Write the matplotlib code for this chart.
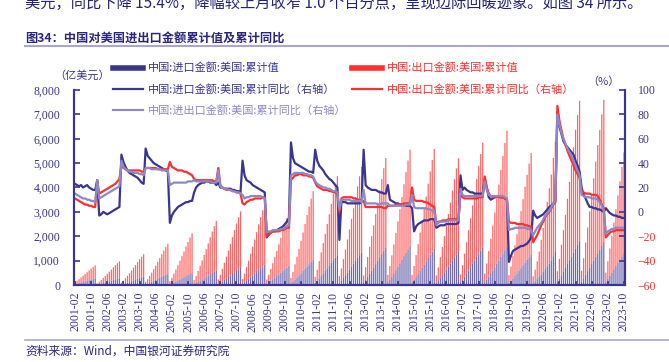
import matplotlib
matplotlib.use("Agg")
import matplotlib.pyplot as plt
from matplotlib.lines import Line2D
import numpy as np
import pandas as pd

# monthly axis 2001-02 .. 2023-10
months = pd.period_range("2001-02", "2023-10", freq="M").strftime("%Y-%m").tolist()

# cumulative (YTD) export value to US, 亿美元
export_ytd = [
    76, 119, 163, 209, 255, 304, 353, 404, 453, 499, 543,
    52, 98, 154, 210, 269, 329, 392, 455, 521, 584, 644, 700,
    69, 129, 203, 277, 356, 435, 518, 601, 689, 772, 851, 925,
    94, 175, 275, 375, 481, 587, 699, 812, 931, 1043, 1149, 1249,
    122, 228, 358, 489, 627, 766, 912, 1059, 1214, 1360, 1499, 1629,
    153, 285, 448, 611, 783, 956, 1140, 1323, 1516, 1699, 1872, 2035,
    175, 326, 512, 698, 896, 1094, 1303, 1513, 1734, 1943, 2141, 2327,
    189, 353, 555, 757, 971, 1186, 1413, 1640, 1880, 2107, 2321, 2523,
    166, 309, 486, 662, 850, 1038, 1236, 1435, 1645, 1844, 2031, 2208,
    212, 397, 623, 850, 1091, 1332, 1586, 1841, 2111, 2366, 2606, 2833,
    243, 454, 714, 974, 1249, 1525, 1817, 2109, 2418, 2710, 2985, 3245,
    264, 493, 774, 1055, 1354, 1653, 1970, 2287, 2621, 2938, 3237, 3518,
    276, 516, 810, 1105, 1418, 1731, 2063, 2395, 2745, 3076, 3389, 3684,
    297, 555, 871, 1188, 1525, 1862, 2218, 2575, 2951, 3307, 3644, 3961,
    307, 573, 900, 1228, 1575, 1923, 2292, 2660, 3049, 3417, 3765, 4092,
    289, 539, 847, 1156, 1483, 1810, 2157, 2504, 2870, 3216, 3544, 3852,
    322, 602, 946, 1289, 1655, 2020, 2407, 2794, 3202, 3589, 3954, 4298,
    359, 670, 1052, 1435, 1842, 2248, 2679, 3110, 3564, 3995, 4401, 4784,
    314, 586, 921, 1256, 1612, 1968, 2345, 2722, 3119, 3496, 3852, 4187,
    280, 480, 730, 1040, 1420, 1800, 2210, 2650, 3090, 3520, 4030, 4518,
    432, 810, 1250, 1700, 2180, 2680, 3210, 3750, 4320, 4880, 5330, 5761,
    445, 830, 1320, 1790, 2300, 2810, 3370, 3900, 4440, 4920, 5380, 5818,
    380, 720, 1120, 1510, 1920, 2330, 2770, 3210, 3670, 4120,
]

# cumulative (YTD) import value from US, 亿美元
import_ytd = [
    37, 58, 79, 101, 123, 147, 170, 195, 219, 241, 262,
    20, 38, 60, 82, 105, 128, 152, 177, 203, 227, 250, 272,
    25, 47, 74, 102, 130, 159, 190, 220, 253, 283, 312, 339,
    34, 63, 98, 134, 172, 210, 250, 291, 333, 373, 411, 447,
    37, 68, 107, 146, 187, 229, 273, 317, 363, 407, 448, 487,
    44, 83, 130, 178, 228, 278, 332, 385, 441, 494, 545, 592,
    52, 97, 153, 208, 267, 326, 389, 451, 517, 579, 638, 694,
    61, 114, 179, 244, 313, 383, 456, 529, 606, 680, 749, 814,
    58, 109, 171, 233, 298, 364, 434, 504, 577, 647, 713, 775,
    77, 143, 224, 306, 393, 479, 571, 663, 760, 852, 938, 1020,
    92, 171, 269, 366, 470, 574, 684, 794, 910, 1020, 1123, 1221,
    100, 186, 292, 399, 512, 625, 744, 864, 990, 1110, 1223, 1329,
    114, 214, 336, 458, 588, 717, 855, 992, 1137, 1274, 1404, 1526,
    119, 223, 350, 477, 612, 748, 891, 1034, 1185, 1328, 1464, 1591,
    112, 208, 327, 446, 573, 699, 833, 967, 1108, 1242, 1368, 1487,
    101, 189, 297, 404, 519, 634, 755, 876, 1004, 1126, 1240, 1348,
    115, 215, 339, 462, 593, 723, 862, 1000, 1147, 1285, 1416, 1539,
    116, 217, 341, 465, 597, 729, 869, 1008, 1155, 1295, 1427, 1551,
    92, 172, 270, 368, 472, 577, 687, 798, 914, 1025, 1129, 1227,
    80, 150, 240, 330, 430, 540, 650, 760, 880, 1010, 1180, 1352,
    130, 260, 400, 550, 700, 860, 1020, 1170, 1330, 1490, 1640, 1795,
    140, 270, 420, 570, 720, 860, 1010, 1160, 1300, 1440, 1620, 1776,
    130, 250, 380, 510, 650, 780, 910, 1040, 1180, 1320,
]

# cumulative YoY, %
import_yoy = [
    23, 22, 21, 22, 20, 21, 22, 20, 19, 18, 18,
    26, -3, -2, 0, -1, -2, -1, 0, 1, 2, 3, 4,
    47, 41, 37, 34, 32, 31, 30, 29, 28, 26, 24, 23,
    52, 46, 44, 42, 40, 39, 38, 37, 36, 35, 34, 33,
    -9, -3, 0, 2, 4, 5, 6, 7, 8, 8, 9, 9,
    16, 20, 22, 23, 24, 24, 25, 25, 24, 24, 24, 22,
    24, 20, 20, 19, 19, 19, 19, 18, 18, 17, 17, 16,
    42, 30, 26, 25, 24, 22, 21, 20, 19, 18, 17, 16,
    -21, -18, -17, -16, -16, -15, -14, -13, -12, -10, -8, -5,
    57, 44, 40, 39, 38, 37, 36, 35, 34, 33, 33, 32,
    51, 42, 38, 36, 34, 31, 29, 27, 26, 24, 22, 20,
    -23, 9, 8, 8, 7, 7, 7, 7, 7, 7, 7, 8,
    51, 22, 20, 19, 18, 18, 18, 17, 16, 16, 15, 15,
    22, 10, 9, 8, 7, 7, 6, 6, 6, 5, 5, 5,
    3, -16, -12, -10, -9, -8, -7, -7, -7, -6, -6, -6,
    -13, -12, -11, -11, -11, -10, -10, -10, -10, -10, -10, -9,
    30, 18, 20, 18, 17, 16, 16, 15, 15, 15, 15, 15,
    27, 20, 12, 10, 11, 12, 13, 13, 12, 12, 11, 10,
    -41, -36, -32, -31, -30, -29, -28, -28, -27, -26, -24, -21,
    1, -3, -5, -4, -3, -2, 0, 2, 4, 5, 7, 9,
    82, 70, 64, 58, 55, 53, 51, 49, 47, 42, 38, 33,
    20, 14, 11, 7, 4, 4, 3, 3, 2, 2, 1, 0,
    3, 1, -1, -2, -3, -3, -4, -4, -5, -5,
]

export_yoy = [
    11, 10, 9, 8, 7, 6, 6, 5, 5, 4, 4,
    26, 15, 16, 17, 18, 19, 20, 21, 22, 23, 25, 27,
    38, 36, 35, 34, 34, 34, 34, 34, 34, 34, 33, 33,
    36, 36, 36, 36, 36, 36, 35, 35, 35, 35, 35, 35,
    41, 37, 36, 35, 34, 34, 34, 33, 33, 32, 31, 30,
    27, 26, 26, 26, 26, 26, 26, 26, 26, 26, 25, 25,
    36, 22, 20, 19, 18, 18, 18, 17, 17, 16, 16, 15,
    7, 6, 8, 9, 10, 10, 11, 11, 11, 11, 12, 12,
    -20, -19, -17, -16, -16, -16, -16, -15, -15, -14, -13, -13,
    26, 28, 30, 30, 31, 31, 30, 30, 30, 29, 29, 28,
    24, 21, 20, 19, 18, 18, 18, 17, 17, 16, 16, 15,
    0, 11, 12, 12, 12, 12, 12, 11, 11, 10, 10, 9,
    9, 4, 4, 4, 4, 4, 4, 4, 4, 4, 3, 3,
    5, 5, 5, 5, 6, 6, 6, 6, 7, 7, 7, 7,
    20, 10, 9, 9, 9, 9, 8, 8, 7, 6, 5, 4,
    -10, -8, -8, -7, -7, -7, -6, -6, -6, -6, -6, -6,
    15, 12, 11, 11, 11, 11, 11, 11, 11, 12, 12, 12,
    29, 20, 15, 13, 12, 12, 12, 12, 12, 12, 11, 10,
    -8, -9, -9, -9, -10, -10, -10, -10, -11, -11, -12, -12,
    -25, -22, -19, -15, -11, -8, -4, -2, 0, 3, 6, 8,
    87, 75, 67, 60, 55, 50, 46, 42, 38, 34, 31, 28,
    16, 16, 15, 15, 15, 14, 14, 14, 13, 10, 6, 3,
    -21, -19, -17, -16, -16, -15, -15, -15, -15, -15,
]

total_yoy = [
    15, 14, 13, 12, 11, 11, 10, 10, 9, 9, 8,
    26, 11, 12, 13, 14, 15, 16, 17, 18, 19, 20, 21,
    42, 37, 35, 34, 33, 33, 32, 32, 32, 31, 31, 30,
    36, 36, 36, 35, 35, 35, 35, 35, 34, 34, 34, 34,
    22, 23, 24, 24, 24, 24, 24, 24, 24, 25, 25, 25,
    26, 25, 25, 25, 25, 25, 25, 25, 25, 24, 24, 24,
    34, 21, 20, 19, 19, 18, 18, 17, 17, 16, 16, 15,
    14, 11, 12, 12, 13, 13, 13, 13, 13, 13, 12, 11,
    -17, -16, -16, -15, -15, -15, -15, -14, -14, -13, -12, -11,
    30, 31, 32, 32, 32, 32, 32, 31, 31, 30, 30, 29,
    25, 23, 22, 21, 20, 20, 19, 19, 18, 17, 17, 16,
    2, 10, 10, 10, 10, 10, 9, 9, 9, 9, 9, 8,
    18, 7, 7, 7, 7, 7, 7, 6, 6, 7, 7, 7,
    7, 5, 5, 5, 5, 5, 5, 5, 5, 6, 6, 6,
    14, 4, 3, 3, 3, 3, 3, 3, 2, 2, 1, 1,
    -11, -9, -8, -8, -8, -8, -7, -7, -7, -7, -7, -7,
    19, 14, 13, 13, 13, 13, 13, 13, 13, 13, 13, 13,
    25, 18, 14, 13, 13, 13, 13, 13, 13, 13, 12, 11,
    -15, -14, -14, -13, -13, -13, -13, -13, -13, -14, -14, -15,
    -19, -16, -13, -11, -9, -6, -3, -1, 1, 4, 7, 9,
    80, 72, 65, 60, 56, 52, 49, 46, 42, 38, 34, 30,
    14, 13, 12, 12, 12, 11, 11, 11, 10, 8, 5, 1,
    -18, -16, -15, -14, -14, -13, -13, -13, -13, -13,
]

left_ticks = [0, 1000, 2000, 3000, 4000, 5000, 6000, 7000, 8000]
right_ticks = [-60, -40, -20, 0, 20, 40, 60, 80, 100]

NAVY = "#3a3592"
RED = "#ff2f2f"
LAVENDER = "#8c89c6"
RULE = "#a9a7d2"

plt.rcParams['font.family'] = ['Noto Sans CJK SC', 'DejaVu Sans']
NUM_FONT = 'Liberation Serif'

W, H = 669, 362
fig = plt.figure(figsize=(W / 100, H / 100), dpi=100)
ax = fig.add_axes([74 / W, 77 / H, 551 / W, 195 / H])

x = np.arange(len(months))

# stacked cumulative bars: imports at bottom, exports on top
ax.bar(x, import_ytd, width=0.6, color=NAVY, linewidth=0, alpha=0.75, snap=False, zorder=1)
ax.bar(x, export_ytd, bottom=import_ytd, width=0.6, color=RED, linewidth=0, alpha=0.75,
       snap=False, zorder=1)

ax.set_xlim(-0.5, len(months) - 0.5)
ax.set_ylim(0, 8000)
ax.set_yticks(left_ticks)
ax.set_yticklabels([f"{v:,}" for v in left_ticks], fontfamily=NUM_FONT, fontsize=8.5, color=NAVY)
ax.set_xticks(x[::8])
ax.set_xticklabels(months[::8], rotation=90, fontfamily=NUM_FONT, fontsize=8.5, color=NAVY)
ax.tick_params(axis='y', direction='in', length=4, width=1.2, color=NAVY, pad=10)
ax.tick_params(axis='x', direction='in', length=3, width=1.2, color=NAVY, pad=5)

# YoY lines on the right axis
ax2 = ax.twinx()
ax2.plot(x, import_yoy, color=NAVY, lw=1.6)
ax2.plot(x, export_yoy, color=RED, lw=1.6)
ax2.plot(x, total_yoy, color=LAVENDER, lw=1.6)
ax2.set_ylim(-60, 100)
ax2.set_yticks(right_ticks)
ax2.set_yticklabels([f"{v}".replace("-", "\u2212") for v in right_ticks],
                    fontfamily=NUM_FONT, fontsize=8.5)
for lab, v in zip(ax2.get_yticklabels(), right_ticks):
    lab.set_color(RED if v < 0 else NAVY)
ax2.tick_params(axis='y', direction='in', length=4, width=1.2, color=NAVY, pad=9)

for a in (ax, ax2):
    a.spines['top'].set_visible(False)
    for s in ('left', 'right', 'bottom'):
        a.spines[s].set_color(NAVY)
        a.spines[s].set_linewidth(1.5)

# axis unit labels
fig.text(82 / W, 1 - 75 / H, "（亿美元）", ha='center', va='center', fontsize=8, color=NAVY)
fig.text(603 / W, 1 - 82 / H, "（%）", ha='center', va='center', fontsize=8, color=NAVY)

# legend, drawn by hand to follow the original layout
legend_rows = [
    (113, 68, NAVY, 4.0, "中国:进口金额:美国:累计值"),
    (113, 89, NAVY, 1.6, "中国:进口金额:美国:累计同比（右轴）"),
    (113, 110, LAVENDER, 1.6, "中国:进出口金额:美国:累计同比（右轴）"),
    (352, 68, RED, 4.0, "中国:出口金额:美国:累计值"),
    (352, 89, RED, 1.6, "中国:出口金额:美国:累计同比（右轴）"),
]
for x0, y0, col, lw, label in legend_rows:
    fig.add_artist(Line2D([x0 / W, (x0 + 30) / W], [1 - y0 / H] * 2, color=col, lw=lw))
    fig.text((x0 + 35) / W, 1 - y0 / H, label, ha='left', va='center', fontsize=8, color=col)

# page text around the figure
fig.text(25 / W, 1 - 3 / H, "美元，同比下降 15.4%，降幅较上月收窄 1.0 个百分点，呈现边际回暖迹象。如图 34 所示。",
         ha='left', va='center', fontsize=11, color="#24227a")
fig.text(25 / W, 1 - 38 / H, "图34：中国对美国进出口金额累计值及累计同比",
         ha='left', va='center', fontsize=8.8, fontweight='bold', color="#2a2680")
fig.add_artist(Line2D([25 / W, 1], [1 - 46 / H] * 2, color=RULE, lw=1.5))
fig.add_artist(Line2D([25 / W, 1], [1 - 340 / H] * 2, color=RULE, lw=1.2))
fig.text(25 / W, 1 - 351 / H, "资料来源：Wind，中国银河证券研究院",
         ha='left', va='center', fontsize=8.5, style='italic', color="#2a2680")

fig.savefig("out.png", dpi=100)
